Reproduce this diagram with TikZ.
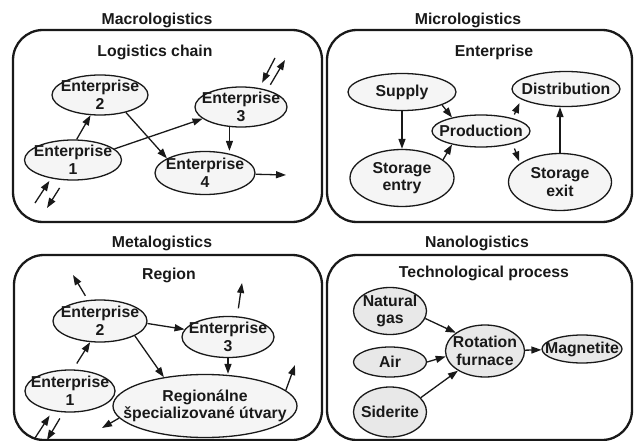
\documentclass[tikz,border=0pt]{standalone}
\usepackage{fontspec}
\setmainfont{Liberation Sans}
\usetikzlibrary{arrows.meta, shapes.geometric}

\begin{document}
\begin{tikzpicture}[
  x=1pt, y=-1pt,
  every node/.style={font=\bfseries\fontsize{15.8}{17.5}\selectfont, text=black!90},
  every label/.style={align=center, inner sep=0pt},
  panel/.style={draw=black!90, line width=2.3pt, rounded corners=30pt},
  unit/.style={ellipse, draw=black!90, line width=1.3pt, fill=black!4, inner sep=0pt},
  nano/.style={unit, fill=black!9},
  line/.style={-{Triangle[length=10pt, width=7pt]}, line width=1.3pt, draw=black!90}
]
\useasboundingbox (0,0) rectangle (634,441);

% Macrologistics
\draw[panel] (13,30) rectangle (322,222);
\node (mac-title) at (157,20) {Macrologistics};
\node (mac-sub) at (155,52) {Logistics chain};
\node[unit, minimum width=97pt, minimum height=40pt, label=center:{Enterprise\\1}] (mac-e1) at (73,160) {};
\node[unit, minimum width=96pt, minimum height=40pt, label=center:{Enterprise\\2}] (mac-e2) at (100,95) {};
\node[unit, minimum width=92pt, minimum height=40pt, label=center:{Enterprise\\3}] (mac-e3) at (241,107) {};
\node[unit, minimum width=100pt, minimum height=43pt, label=center:{Enterprise\\4}] (mac-e4) at (205,173) {};
\coordinate (mac-in1) at (35,203);
\coordinate (mac-out1) at (47,208);
\coordinate (mac-in3) at (275,58);
\coordinate (mac-out3) at (285,60);
\coordinate (mac-out4) at (286,175);

\draw[line] (mac-e1.80) -- (mac-e2.245);
\draw[line] (mac-e1.15) -- (mac-e3.197);
\draw[line] (mac-e2.-34) -- (mac-e4.159);
\draw[line] (mac-e3.240) -- (mac-e3.240 |- mac-e4.north);
\draw[line] (mac-e4) -- (mac-out4);
\draw[line, shorten >=3pt] (mac-in1) -- (mac-e1.220);
\draw[line, shorten <=9pt] (mac-e1.247) -- (mac-out1);
\draw[line, shorten >=6pt] (mac-in3) -- (mac-e3.46);
\draw[line, shorten <=6pt] (mac-e3.33) -- (mac-out3);

% Micrologistics
\draw[panel] (327,30) rectangle (632,222);
\node (mic-title) at (468,20) {Micrologistics};
\node (mic-sub) at (494,52) {Enterprise};
\node[unit, minimum width=108pt, minimum height=37pt, label=center:{Supply}] (mic-sup) at (402,92) {};
\node[unit, minimum width=104pt, minimum height=57pt, label=center:{Storage\\entry}] (mic-ent) at (402,178) {};
\node[unit, minimum width=98pt, minimum height=32pt, label=center:{Production}] (mic-prod) at (481,131) {};
\node[unit, minimum width=108pt, minimum height=35pt, label=center:{Distribution}] (mic-dist) at (566,89) {};
\node[unit, minimum width=103pt, minimum height=57pt, label=center:{Storage\\exit}] (mic-exit) at (560,182) {};

\draw[line] (mic-sup) -- (mic-ent);
\draw[line] (mic-sup.-18) -- (mic-prod.155);
\draw[line] (mic-ent.24) -- (mic-prod.205);
\draw[line, shorten <=4pt, shorten >=4pt] (mic-prod.22) -- (mic-dist.193);
\draw[line, shorten <=5pt, shorten >=2pt] (mic-prod.-22) -- (mic-exit.155);
\draw[line] (mic-exit.north) -- (mic-exit.north |- mic-dist.south);

% Metalogistics
\draw[panel] (14,255) rectangle (322,440);
\node (met-title) at (162,243) {Metalogistics};
\node (met-sub) at (169,275) {Region};
\node[unit, minimum width=90pt, minimum height=42pt, label=center:{Enterprise\\1}] (met-e1) at (70,391) {};
\node[unit, minimum width=94pt, minimum height=42pt, label=center:{Enterprise\\2}] (met-e2) at (100,321) {};
\node[unit, minimum width=92pt, minimum height=41pt, label=center:{Enterprise\\3}] (met-e3) at (228,337) {};
\node[unit, minimum width=184pt, minimum height=63pt, label=center:{Regionálne\\špecializované útvary}] (met-reg) at (205,406) {};
\coordinate (met-out2) at (73,275);
\coordinate (met-out3) at (242,283);
\coordinate (met-outa) at (295,365);
\coordinate (met-outb) at (102,428);
\coordinate (met-in1) at (35,438);
\coordinate (met-out1) at (47,440);

\draw[line, shorten <=5pt] (met-e2.120) -- (met-out2);
\draw[line, shorten <=8pt] (met-e3.66) -- (met-out3);
\draw[line] (met-e2.-3) -- (met-e3.170);
\draw[line, shorten <=7pt] (met-e1.82) -- (met-e2.245);
\draw[line] (met-e2.-23) -- (met-reg.145);
\draw[line] (met-e3.south) -- (met-e3.south |- met-reg.north);
\draw[line] (met-reg.11) -- (met-outa);
\draw[line] (met-reg.188) -- (met-outb);
\draw[line, shorten >=5.5pt] (met-in1) -- (met-e1.229);
\draw[line, shorten <=7pt] (met-e1.253) -- (met-out1);

% Nanologistics
\draw[panel] (327,255) rectangle (632,440);
\node (nan-title) at (477,243) {Nanologistics};
\node (nan-sub) at (484,273) {Technological process};
\node[nano, minimum width=73pt, minimum height=47pt, label=center:{Natural\\gas}] (nan-ng) at (390,311) {};
\node[nano, minimum width=73pt, minimum height=30pt, label=center:{Air}] (nan-air) at (390,362) {};
\node[nano, minimum width=73pt, minimum height=50pt, label=center:{Siderite}] (nan-sid) at (390,412) {};
\node[nano, minimum width=79pt, minimum height=52pt, label=center:{Rotation\\furnace}] (nan-rf) at (485,351) {};
\node[nano, minimum width=80pt, minimum height=28pt, label=center:{Magnetite}] (nan-mag) at (582,349) {};

\draw[line] (nan-ng.-12) -- (nan-rf.148);
\draw[line] (nan-air.east) -- (nan-rf.188);
\draw[line] (nan-sid.25) -- (nan-rf.216);
\draw[line] (nan-rf) -- (nan-mag);
\end{tikzpicture}
\end{document}
